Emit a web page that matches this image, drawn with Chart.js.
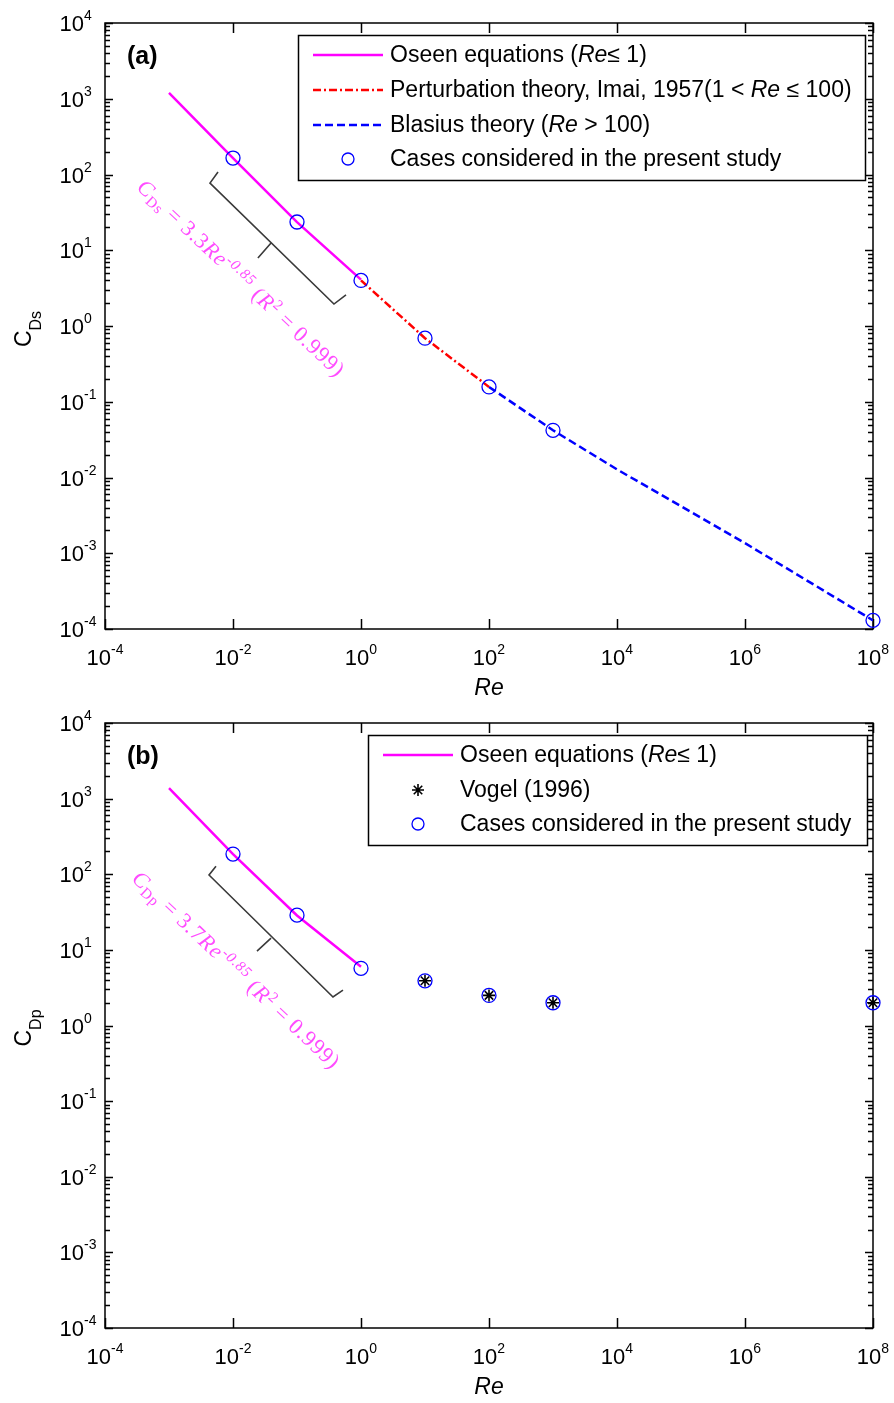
<!DOCTYPE html>
<html><head><meta charset="utf-8">
<script src="https://cdn.jsdelivr.net/npm/chart.js@4/dist/chart.umd.min.js"></script>
<style>body{margin:0;background:#fff}canvas{position:absolute;left:0}</style>
</head><body>
<canvas id="ca" width="894" height="700" style="top:0px"></canvas>
<canvas id="cb" width="894" height="703" style="top:700px"></canvas>
<script>
// ---------------- data ----------------
const xTickExps = [-4, -2, 0, 2, 4, 6, 8];
const yTickExps = [-4, -3, -2, -1, 0, 1, 2, 3, 4];

// panel (a)
const reOseenA = [0.001, 0.01, 0.1, 1];
const cdsOseen = [1200, 165, 23.5, 4.1];
const rePert = [1, 10, 100];
const cdsPert = [4.0, 0.69, 0.157];
const reBlasius = [100, 1000, 1e4, 1e6, 1e8];
const cdsBlasius = [0.157, 0.042, 0.0128, 0.00136, 0.00013];
const reCasesA = [0.01, 0.1, 1, 10, 100, 1000, 1e8];
const cdsCases = [165, 23.6, 4.0, 0.69, 0.157, 0.042, 0.00013];

// panel (b)
const reOseenB = [0.001, 0.01, 0.1, 1];
const cdpOseen = [1380, 185, 28.5, 6.0];
const reVogel = [10, 100, 1000, 1e8];
const cdpVogel = [3.9, 2.5, 2.0, 2.0];
const reCasesB = [0.01, 0.1, 1, 10, 100, 1000, 1e8];
const cdpCases = [185, 28.8, 5.7, 3.9, 2.5, 2.0, 2.0];

// ---------------- helpers ----------------
const SANS = '"Liberation Sans", Arial, sans-serif';
const SERIF = '"Liberation Serif", "Times New Roman", serif';
const pts = (xs, ys) => xs.map((x, i) => ({x, y: ys[i]}));

function richWidth(ctx, parts, extra) {
  let w = 0;
  for (const p of parts) {
    ctx.font = p.font;
    if (extra) { for (const ch of p.t) w += ctx.measureText(ch).width + extra; }
    else w += ctx.measureText(p.t).width;
  }
  return w;
}
function drawRich(ctx, parts, x, y, extra) {
  let cx = x;
  for (const p of parts) {
    ctx.font = p.font;
    if (extra) {
      for (const ch of p.t) { ctx.fillText(ch, cx, y + (p.dy || 0)); cx += ctx.measureText(ch).width + extra; }
    } else {
      ctx.fillText(p.t, cx, y + (p.dy || 0)); cx += ctx.measureText(p.t).width;
    }
  }
  return cx - x;
}
function powParts(e) {
  return [{t: '10', font: '22px ' + SANS, dy: 0}, {t: String(e), font: '14px ' + SANS, dy: -11}];
}

const F = 23;
const legT = (t) => ({t, font: F + 'px ' + SANS});
const legI = (t) => ({t, font: 'italic ' + F + 'px ' + SANS});

function formulaParts(sub, coef) {
  const s = 22, ss = 15;
  return [
    {t: 'C', font: 'italic ' + s + 'px ' + SERIF, dy: 0},
    {t: sub, font: ss + 'px ' + SERIF, dy: 4},
    {t: ' = ' + coef, font: s + 'px ' + SERIF, dy: 0},
    {t: 'Re', font: 'italic ' + s + 'px ' + SERIF, dy: 0},
    {t: '-0.85', font: 'italic ' + ss + 'px ' + SERIF, dy: -8},
    {t: ' (', font: s + 'px ' + SERIF, dy: 0},
    {t: 'R', font: 'italic ' + s + 'px ' + SERIF, dy: 0},
    {t: '2', font: ss + 'px ' + SERIF, dy: -8},
    {t: ' = 0.999)', font: s + 'px ' + SERIF, dy: 0}
  ];
}

function decor(cfg) {
  return {
    id: 'decor_' + cfg.tag,
    beforeDatasetsDraw(chart) {
      const ctx = chart.ctx, a = chart.chartArea;
      const xs = chart.scales.x, ys = chart.scales.y;
      ctx.save();
      ctx.strokeStyle = '#000'; ctx.lineWidth = 1.5;
      ctx.strokeRect(a.left, a.top, a.right - a.left, a.bottom - a.top);
      ctx.beginPath();
      for (const e of xTickExps) {
        const px = Math.round(xs.getPixelForValue(Math.pow(10, e))) + 0.5;
        ctx.moveTo(px, a.bottom); ctx.lineTo(px, a.bottom - 10);
        ctx.moveTo(px, a.top); ctx.lineTo(px, a.top + 10);
      }
      for (const e of yTickExps) {
        const py = Math.round(ys.getPixelForValue(Math.pow(10, e))) + 0.5;
        ctx.moveTo(a.left, py); ctx.lineTo(a.left + 8, py);
        ctx.moveTo(a.right, py); ctx.lineTo(a.right - 8, py);
        if (e < 4) {
          for (let k = 2; k <= 9; k++) {
            const pm = Math.round(ys.getPixelForValue(k * Math.pow(10, e))) + 0.5;
            ctx.moveTo(a.left, pm); ctx.lineTo(a.left + 5, pm);
            ctx.moveTo(a.right, pm); ctx.lineTo(a.right - 5, pm);
          }
        }
      }
      ctx.stroke();
      ctx.fillStyle = '#000'; ctx.textBaseline = 'alphabetic'; ctx.textAlign = 'left';
      for (const e of yTickExps) {
        const py = ys.getPixelForValue(Math.pow(10, e));
        const parts = powParts(e);
        ctx.font = parts[0].font;
        const w10 = ctx.measureText('10').width;
        drawRich(ctx, parts, a.left - 21 - w10, py + 8, 0);
      }
      for (const e of xTickExps) {
        const px = xs.getPixelForValue(Math.pow(10, e));
        const parts = powParts(e);
        const w = richWidth(ctx, parts, 0);
        drawRich(ctx, parts, px - w / 2, a.bottom + 36, 0);
      }
      ctx.font = 'italic 23px ' + SANS; ctx.textAlign = 'center';
      ctx.fillText('Re', (a.left + a.right) / 2, a.bottom + 66);
      ctx.save();
      ctx.translate(31, cfg.yTitleY); ctx.rotate(-Math.PI / 2);
      ctx.textAlign = 'left';
      const yt = [{t: 'C', font: '23px ' + SANS, dy: 0}, {t: cfg.yTitleSub, font: '16px ' + SANS, dy: 10}];
      const wy = richWidth(ctx, yt, 0);
      drawRich(ctx, yt, -wy / 2, 0, 0);
      ctx.restore();
      ctx.font = 'bold 25px ' + SANS; ctx.textAlign = 'left';
      ctx.fillText(cfg.panel, a.left + 22, a.top + 41);
      ctx.restore();
    },
    afterDraw(chart) {
      const ctx = chart.ctx;
      const xs = chart.scales.x, ys = chart.scales.y;
      const P = (p) => [xs.getPixelForValue(p[0]), ys.getPixelForValue(p[1])];
      ctx.save();
      ctx.strokeStyle = '#3a3a3a'; ctx.lineWidth = 1.6;
      ctx.beginPath();
      cfg.bracket.path.forEach((p, i) => { const q = P(p); i ? ctx.lineTo(q[0], q[1]) : ctx.moveTo(q[0], q[1]); });
      const m1 = P(cfg.bracket.tick[0]), m2 = P(cfg.bracket.tick[1]);
      ctx.moveTo(m1[0], m1[1]); ctx.lineTo(m2[0], m2[1]);
      ctx.stroke();
      const f = cfg.formula;
      const s0 = P(f.start), s1 = P(f.end);
      const ang = Math.atan2(s1[1] - s0[1], s1[0] - s0[0]);
      const len = Math.hypot(s1[0] - s0[0], s1[1] - s0[1]);
      let n = 0; f.parts.forEach(p => n += p.t.length);
      const w0 = richWidth(ctx, f.parts, 0);
      const extra = (len - w0) / n;
      ctx.translate(s0[0], s0[1]); ctx.rotate(ang);
      ctx.fillStyle = '#ff4cff'; ctx.textBaseline = 'alphabetic'; ctx.textAlign = 'left';
      drawRich(ctx, f.parts, 0, 7, extra || 0.0001);
      ctx.restore();
      const L = cfg.legend;
      ctx.save();
      ctx.fillStyle = '#fff'; ctx.fillRect(L.x1, L.y1, L.x2 - L.x1, L.y2 - L.y1);
      ctx.strokeStyle = '#000'; ctx.lineWidth = 1.5;
      ctx.strokeRect(L.x1 + 0.5, L.y1 + 0.5, L.x2 - L.x1, L.y2 - L.y1);
      L.items.forEach((it, i) => {
        const y = L.rows[i];
        ctx.save();
        if (it.kind === 'line') {
          ctx.strokeStyle = it.color; ctx.lineWidth = 2.5; ctx.setLineDash(it.dash);
          ctx.beginPath(); ctx.moveTo(L.s1, y); ctx.lineTo(L.s2, y); ctx.stroke();
        } else {
          ctx.strokeStyle = it.color; ctx.fillStyle = 'rgba(0,0,0,0)'; ctx.lineWidth = it.bw;
          Chart.helpers.drawPoint(ctx, {pointStyle: it.style, radius: it.r, borderWidth: it.bw, rotation: 0},
            L.mx, y);
        }
        ctx.restore();
        ctx.fillStyle = '#000'; ctx.textBaseline = 'middle'; ctx.textAlign = 'left';
        drawRich(ctx, it.parts, L.tx, y + 1, 0);
      });
      ctx.restore();
    }
  };
}

const commonOpts = (bottomPad) => ({
  responsive: false, animation: false, devicePixelRatio: 1,
  layout: {padding: {left: 105, top: 23, right: 21, bottom: bottomPad}},
  plugins: {legend: {display: false}, tooltip: {enabled: false}},
  scales: {
    x: {type: 'logarithmic', min: 1e-4, max: 1e8, display: false},
    y: {type: 'logarithmic', min: 1e-4, max: 1e4, display: false}
  }
});

const circleDs = (data) => ({data, showLine: false, pointStyle: 'circle', pointRadius: 7,
  borderColor: '#0000ff', backgroundColor: 'rgba(0,0,0,0)', pointBorderWidth: 1.3, clip: false});
const lineDs = (data, color, dash) => ({data, showLine: true, borderColor: color, borderWidth: 2.5,
  borderDash: dash, pointRadius: 0, backgroundColor: color, fill: false});

new Chart(document.getElementById('ca'), {
  type: 'scatter',
  data: {datasets: [
    circleDs(pts(reCasesA, cdsCases)),
    lineDs(pts(reOseenA, cdsOseen), '#ff00ff', []),
    lineDs(pts(rePert, cdsPert), '#ff0000', [8, 3, 2, 3]),
    lineDs(pts(reBlasius, cdsBlasius), '#0000ff', [8, 4])
  ]},
  options: commonOpts(71),
  plugins: [decor({
    tag: 'a', panel: '(a)', yTitleSub: 'Ds', yTitleY: 329,
    bracket: {path: [[5.83e-3, 108], [4.37e-3, 77], [0.378, 1.95], [0.583, 2.57]],
              tick: [[0.0393, 12.5], [0.0245, 7.9]]},
    formula: {start: [3.6e-4, 76], end: [0.5, 0.24], parts: formulaParts('Ds', '3.3')},
    legend: {x1: 298, y1: 35, x2: 865, y2: 180, s1: 313, s2: 383, mx: 348, tx: 390,
      rows: [55, 90, 125, 159],
      items: [
        {kind: 'line', color: '#ff00ff', dash: [], parts: [legT('Oseen equations ('), legI('Re'), legT('\u2264 1)')]},
        {kind: 'line', color: '#ff0000', dash: [8, 3, 2, 3], parts: [legT('Perturbation theory, Imai, 1957(1 < '), legI('Re'), legT(' \u2264 100)')]},
        {kind: 'line', color: '#0000ff', dash: [8, 4], parts: [legT('Blasius theory ('), legI('Re'), legT(' > 100)')]},
        {kind: 'point', style: 'circle', color: '#0000ff', bw: 1.3, r: 6, parts: [legT('Cases considered in the present study')]}
      ]}
  })]
});

new Chart(document.getElementById('cb'), {
  type: 'scatter',
  data: {datasets: [
    {data: pts(reVogel, cdpVogel), showLine: false, pointStyle: 'star', pointRadius: 6,
     borderColor: '#000', backgroundColor: '#000', pointBorderWidth: 1.6, clip: false},
    circleDs(pts(reCasesB, cdpCases)),
    lineDs(pts(reOseenB, cdpOseen), '#ff00ff', [])
  ]},
  options: commonOpts(75),
  plugins: [decor({
    tag: 'b', panel: '(b)', yTitleSub: 'Dp', yTitleY: 328,
    bracket: {path: [[5.42e-3, 128], [4.22e-3, 97.6], [0.365, 2.38], [0.523, 2.94]],
              tick: [[0.0393, 14.3], [0.0237, 9.64]]},
    formula: {start: [3.0e-4, 98], end: [0.42, 0.30], parts: formulaParts('Dp', '3.7')},
    legend: {x1: 368, y1: 35, x2: 867, y2: 145, s1: 383, s2: 453, mx: 418, tx: 460,
      rows: [55, 90, 124],
      items: [
        {kind: 'line', color: '#ff00ff', dash: [], parts: [legT('Oseen equations ('), legI('Re'), legT('\u2264 1)')]},
        {kind: 'point', style: 'star', color: '#000', bw: 1.6, r: 6, parts: [legT('Vogel (1996)')]},
        {kind: 'point', style: 'circle', color: '#0000ff', bw: 1.3, r: 6, parts: [legT('Cases considered in the present study')]}
      ]}
  })]
});
</script>
</body></html>
